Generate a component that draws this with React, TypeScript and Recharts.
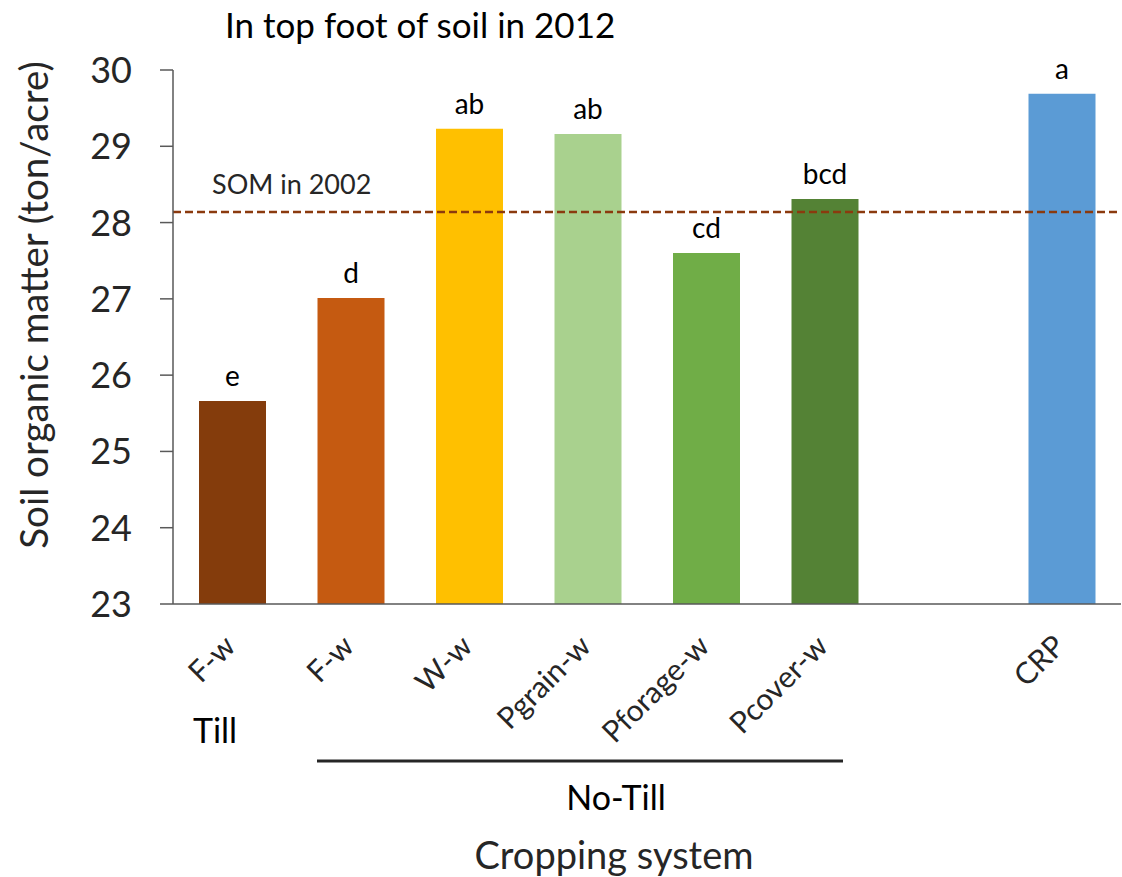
import { BarChart, Bar, Cell, XAxis, YAxis, ReferenceLine, LabelList } from "recharts";

const categories = ["F-w", "F-w", "W-w", "Pgrain-w", "Pforage-w", "Pcover-w", "", "CRP"];
const som2012 = [25.66, 27.01, 29.23, 29.16, 27.6, 28.31, null, 29.69];
const letters = ["e", "d", "ab", "ab", "cd", "bcd", "", "a"];
const barColors = ["#843C0C", "#C55A11", "#FFC000", "#A9D18E", "#70AD47", "#548235", "#ffffff", "#5B9BD5"];
const som2002 = 28.14;
const yTicks = [23, 24, 25, 26, 27, 28, 29, 30];

const data = categories.map((name, i) => ({
  id: i,
  name,
  som: som2012[i],
  letter: letters[i],
}));

const FONT = "Lato, 'Open Sans', sans-serif";
const AXIS = "#595959";

const YTick = ({ x, y, payload }: any) => (
  <text x={x} y={y} dy="0.36em" textAnchor="end" fontSize={36} fill="#262626" fontFamily={FONT}>
    {payload.value}
  </text>
);

// rotated category names, right end sits under the bar centre
const XTick = ({ x, y, payload }: any) => {
  const tx = x + 5;
  const ty = y + 44;
  return (
    <text
      x={tx}
      y={ty}
      textAnchor="end"
      fontSize={30}
      fill="#262626"
      fontFamily={FONT}
      transform={`rotate(-45, ${tx}, ${ty})`}
    >
      {categories[payload.value]}
    </text>
  );
};

const SomLabel = ({ viewBox }: any) => (
  <text x={viewBox.x + 39} y={viewBox.y - 18} fontSize={27} fill="#262626" fontFamily={FONT}>
    SOM in 2002
  </text>
);

export default function App() {
  return (
    <div style={{ position: "absolute", left: 0, top: 0, width: 1122, height: 877, background: "#fff" }}>
      <BarChart
        width={1122}
        height={877}
        data={data}
        margin={{ top: 70, right: 1, left: 73, bottom: 213 }}
        barSize={67}
      >
        <XAxis
          dataKey="id"
          type="category"
          height={60}
          tickLine={false}
          tickSize={0}
          tickMargin={0}
          interval={0}
          axisLine={{ stroke: AXIS, strokeWidth: 1.5 }}
          tick={<XTick />}
        />
        <YAxis
          width={100}
          domain={[23, 30]}
          ticks={yTicks}
          allowDataOverflow
          tickSize={13}
          tickMargin={28}
          axisLine={{ stroke: AXIS, strokeWidth: 1.5 }}
          tickLine={{ stroke: AXIS, strokeWidth: 1.5 }}
          tick={<YTick />}
        />
        <Bar dataKey="som" isAnimationActive={false}>
          {data.map((d, i) => (
            <Cell key={i} fill={barColors[i]} />
          ))}
          <LabelList
            dataKey="letter"
            position="top"
            offset={15}
            fontSize={28}
            fill="#000"
            fontFamily={FONT}
          />
        </Bar>
        <ReferenceLine
          y={som2002}
          stroke="#8B3A0E"
          strokeWidth={2.5}
          strokeDasharray="8 4"
          label={<SomLabel />}
        />
      </BarChart>

      <svg
        width={1122}
        height={877}
        style={{ position: "absolute", left: 0, top: 0, pointerEvents: "none" }}
        fontFamily={FONT}
      >
        <text x={225} y={38} fontSize={35} fill="#000">
          In top foot of soil in 2012
        </text>
        <text
          x={48}
          y={305}
          fontSize={38.5}
          fill="#262626"
          textAnchor="middle"
          transform="rotate(-90, 48, 305)"
        >
          Soil organic matter (ton/acre)
        </text>
        <text x={215} y={743} fontSize={34} fill="#000" textAnchor="middle">
          Till
        </text>
        <line x1={317} x2={843} y1={761} y2={761} stroke="#262626" strokeWidth={3} />
        <text x={616} y={810} fontSize={34} fill="#000" textAnchor="middle">
          No-Till
        </text>
        <text x={614} y={869} fontSize={38} fill="#262626" textAnchor="middle">
          Cropping system
        </text>
      </svg>
    </div>
  );
}
